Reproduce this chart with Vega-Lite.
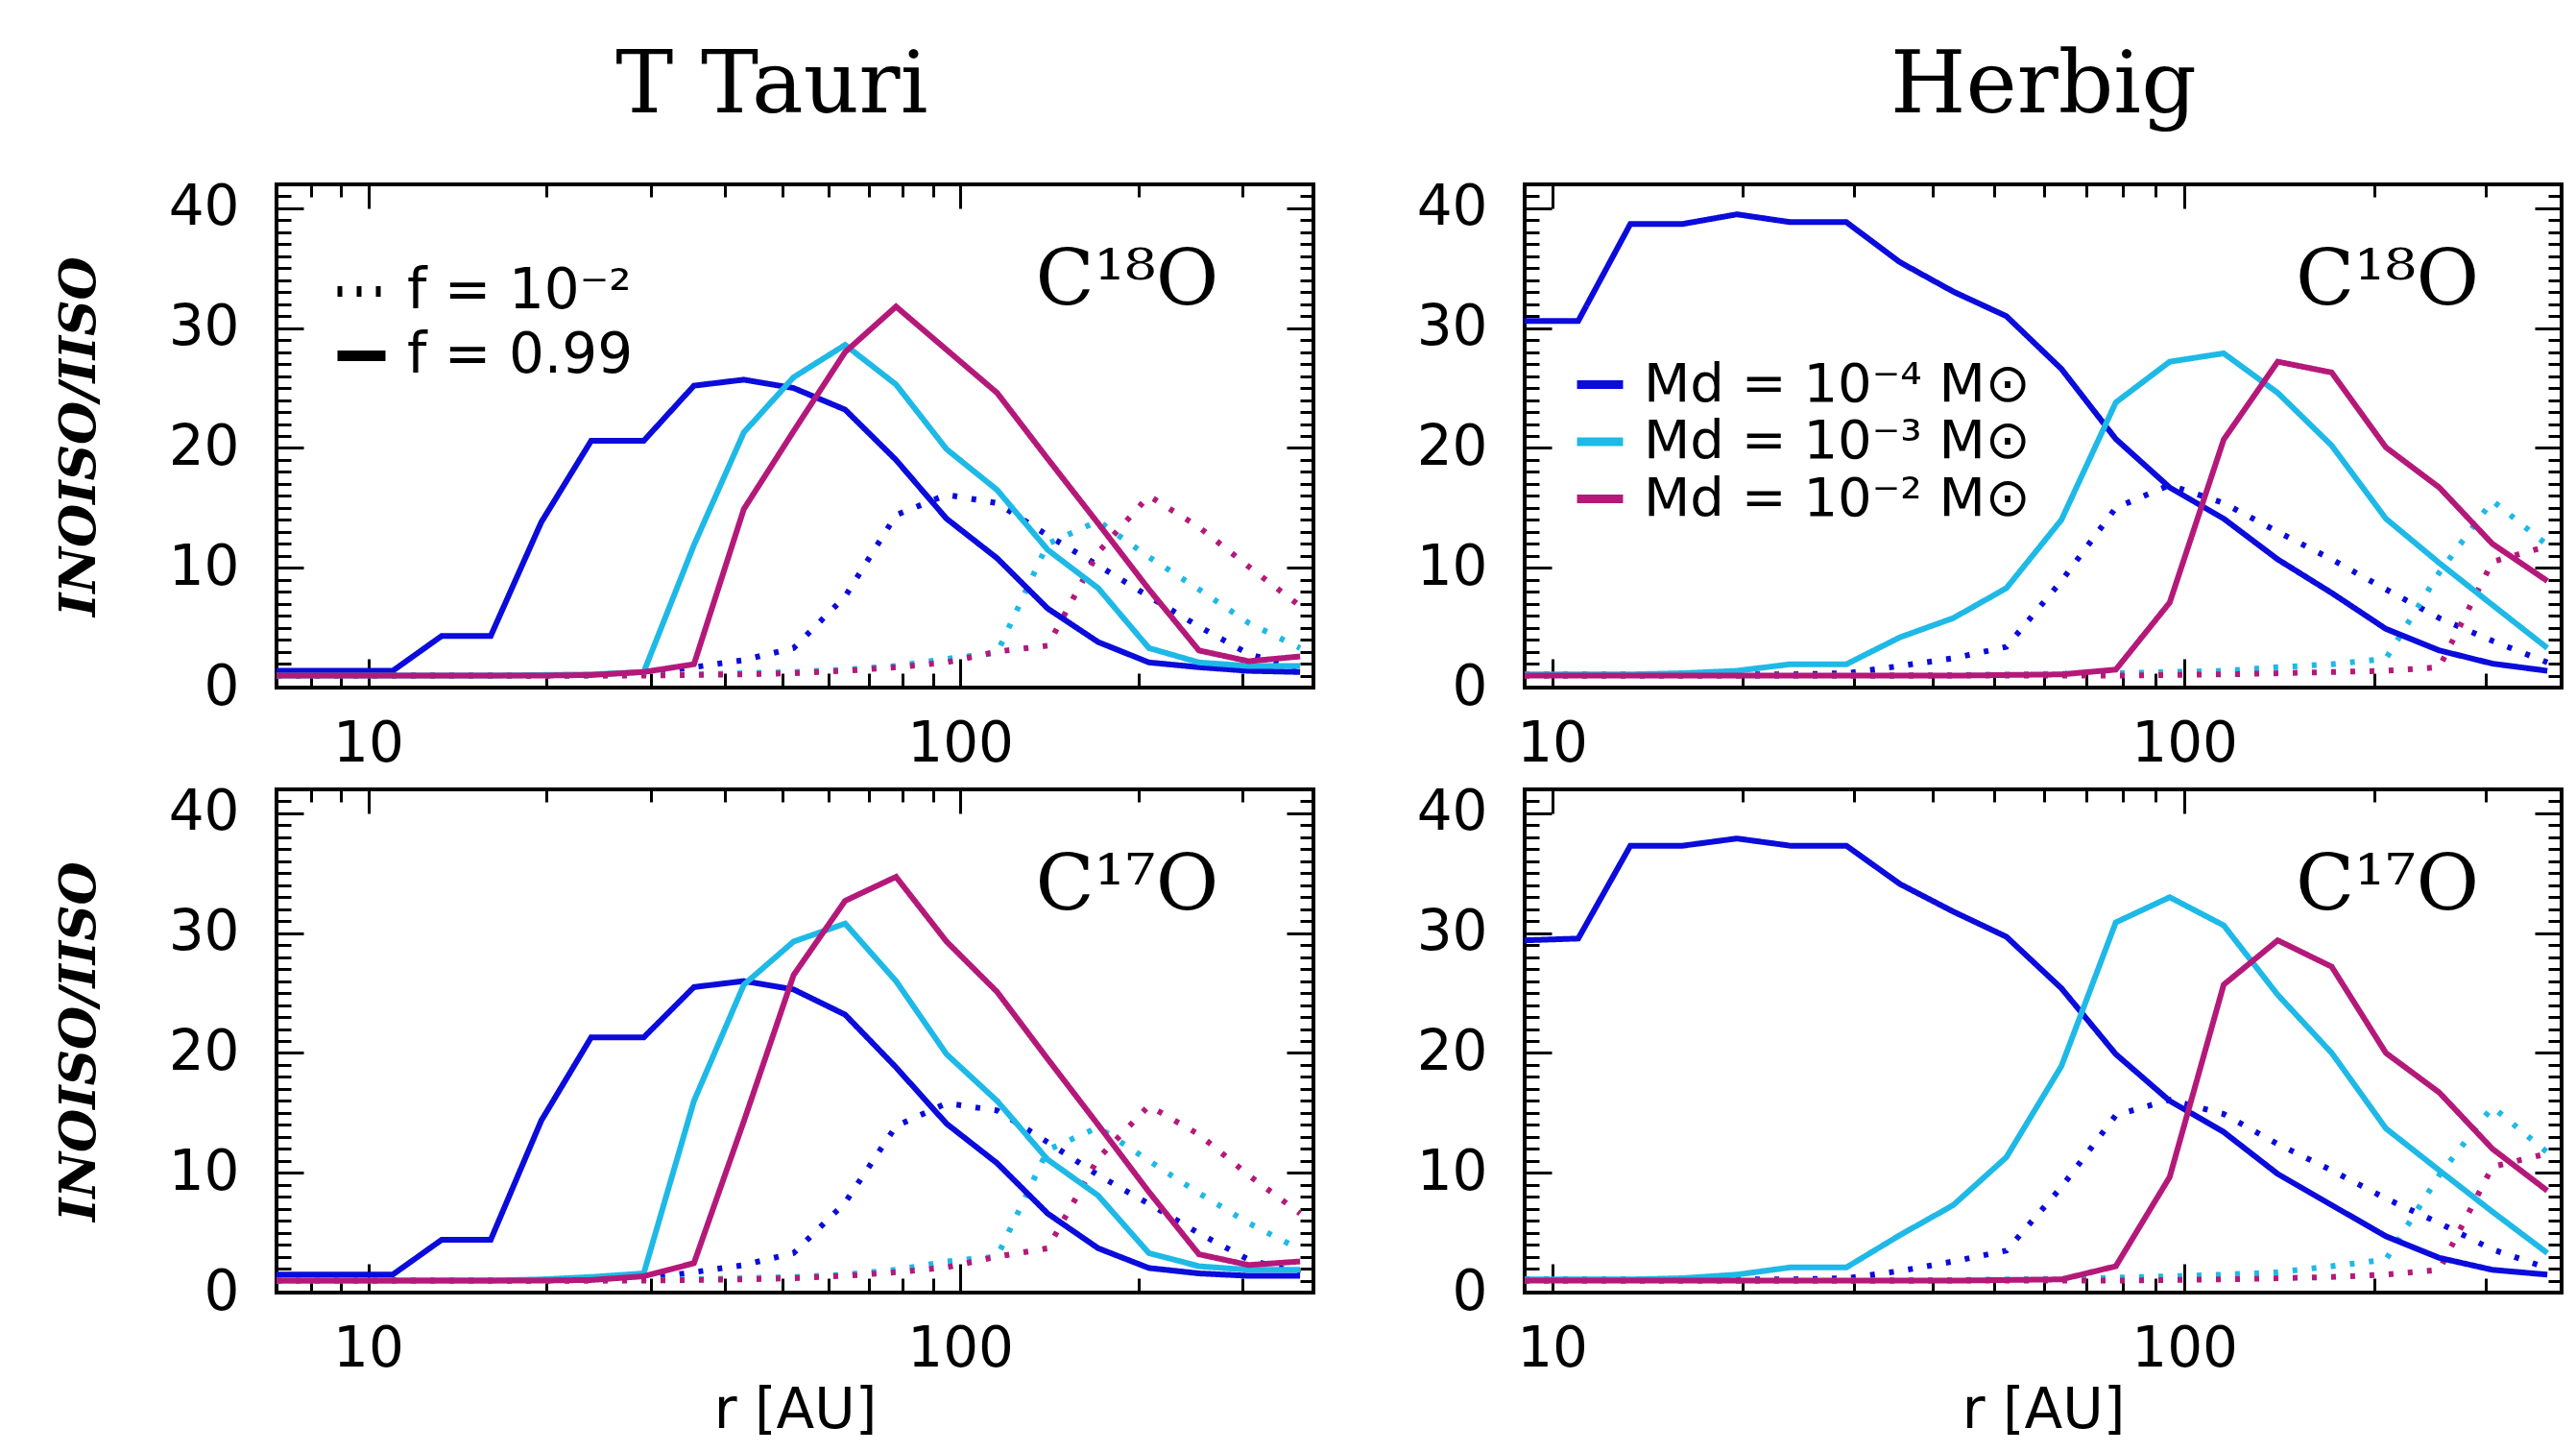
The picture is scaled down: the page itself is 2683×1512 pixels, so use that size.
{
"$schema":"https://vega.github.io/schema/vega-lite/v6.json",
"background":"white",
"padding":{"left":54,"top":44,"right":0,"bottom":0},
"datasets":{
"tt18":[
{"Md":"1e-4","f":"0.01","r":7,"I":1.0},{"Md":"1e-4","f":"0.01","r":9,"I":1.0},{"Md":"1e-4","f":"0.01","r":11,"I":1.0},{"Md":"1e-4","f":"0.01","r":13.3,"I":1.0},{"Md":"1e-4","f":"0.01","r":16.1,"I":1.0},{"Md":"1e-4","f":"0.01","r":19.6,"I":1.0},{"Md":"1e-4","f":"0.01","r":23.8,"I":1.05},{"Md":"1e-4","f":"0.01","r":29.2,"I":1.15},{"Md":"1e-4","f":"0.01","r":35.5,"I":1.7},{"Md":"1e-4","f":"0.01","r":43.1,"I":2.3},{"Md":"1e-4","f":"0.01","r":52.3,"I":3.3},{"Md":"1e-4","f":"0.01","r":63.9,"I":7.6},{"Md":"1e-4","f":"0.01","r":77.9,"I":14.4},{"Md":"1e-4","f":"0.01","r":94.8,"I":16.1},{"Md":"1e-4","f":"0.01","r":115.4,"I":15.4},{"Md":"1e-4","f":"0.01","r":140.5,"I":12.7},{"Md":"1e-4","f":"0.01","r":171,"I":10.2},{"Md":"1e-4","f":"0.01","r":208.3,"I":7.6},{"Md":"1e-4","f":"0.01","r":253,"I":5.1},{"Md":"1e-4","f":"0.01","r":307,"I":2.8},{"Md":"1e-4","f":"0.01","r":375,"I":1.6},
{"Md":"1e-3","f":"0.01","r":7,"I":1.0},{"Md":"1e-3","f":"0.01","r":9,"I":1.0},{"Md":"1e-3","f":"0.01","r":11,"I":1.0},{"Md":"1e-3","f":"0.01","r":13.3,"I":1.0},{"Md":"1e-3","f":"0.01","r":16.1,"I":1.0},{"Md":"1e-3","f":"0.01","r":19.6,"I":1.0},{"Md":"1e-3","f":"0.01","r":23.8,"I":1.0},{"Md":"1e-3","f":"0.01","r":29.2,"I":1.05},{"Md":"1e-3","f":"0.01","r":35.5,"I":1.1},{"Md":"1e-3","f":"0.01","r":43.1,"I":1.2},{"Md":"1e-3","f":"0.01","r":52.3,"I":1.3},{"Md":"1e-3","f":"0.01","r":63.9,"I":1.5},{"Md":"1e-3","f":"0.01","r":77.9,"I":1.8},{"Md":"1e-3","f":"0.01","r":94.8,"I":2.4},{"Md":"1e-3","f":"0.01","r":115.4,"I":2.9},{"Md":"1e-3","f":"0.01","r":140.5,"I":12.0},{"Md":"1e-3","f":"0.01","r":171,"I":13.9},{"Md":"1e-3","f":"0.01","r":208.3,"I":10.9},{"Md":"1e-3","f":"0.01","r":253,"I":8.2},{"Md":"1e-3","f":"0.01","r":307,"I":5.4},{"Md":"1e-3","f":"0.01","r":375,"I":3.3},
{"Md":"1e-2","f":"0.01","r":7,"I":1.0},{"Md":"1e-2","f":"0.01","r":9,"I":1.0},{"Md":"1e-2","f":"0.01","r":11,"I":1.0},{"Md":"1e-2","f":"0.01","r":13.3,"I":1.0},{"Md":"1e-2","f":"0.01","r":16.1,"I":1.0},{"Md":"1e-2","f":"0.01","r":19.6,"I":1.0},{"Md":"1e-2","f":"0.01","r":23.8,"I":1.0},{"Md":"1e-2","f":"0.01","r":29.2,"I":1.0},{"Md":"1e-2","f":"0.01","r":35.5,"I":1.05},{"Md":"1e-2","f":"0.01","r":43.1,"I":1.1},{"Md":"1e-2","f":"0.01","r":52.3,"I":1.2},{"Md":"1e-2","f":"0.01","r":63.9,"I":1.4},{"Md":"1e-2","f":"0.01","r":77.9,"I":1.7},{"Md":"1e-2","f":"0.01","r":94.8,"I":2.1},{"Md":"1e-2","f":"0.01","r":115.4,"I":3.0},{"Md":"1e-2","f":"0.01","r":140.5,"I":3.5},{"Md":"1e-2","f":"0.01","r":171,"I":11.3},{"Md":"1e-2","f":"0.01","r":208.3,"I":16.0},{"Md":"1e-2","f":"0.01","r":253,"I":13.4},{"Md":"1e-2","f":"0.01","r":307,"I":10.1},{"Md":"1e-2","f":"0.01","r":375,"I":6.8},
{"Md":"1e-4","f":"0.99","r":7,"I":1.4},{"Md":"1e-4","f":"0.99","r":9,"I":1.4},{"Md":"1e-4","f":"0.99","r":11,"I":1.4},{"Md":"1e-4","f":"0.99","r":13.3,"I":4.3},{"Md":"1e-4","f":"0.99","r":16.1,"I":4.3},{"Md":"1e-4","f":"0.99","r":19.6,"I":13.8},{"Md":"1e-4","f":"0.99","r":23.8,"I":20.6},{"Md":"1e-4","f":"0.99","r":29.2,"I":20.6},{"Md":"1e-4","f":"0.99","r":35.5,"I":25.2},{"Md":"1e-4","f":"0.99","r":43.1,"I":25.7},{"Md":"1e-4","f":"0.99","r":52.3,"I":25.0},{"Md":"1e-4","f":"0.99","r":63.9,"I":23.2},{"Md":"1e-4","f":"0.99","r":77.9,"I":19.0},{"Md":"1e-4","f":"0.99","r":94.8,"I":14.1},{"Md":"1e-4","f":"0.99","r":115.4,"I":10.8},{"Md":"1e-4","f":"0.99","r":140.5,"I":6.6},{"Md":"1e-4","f":"0.99","r":171,"I":3.8},{"Md":"1e-4","f":"0.99","r":208.3,"I":2.1},{"Md":"1e-4","f":"0.99","r":253,"I":1.7},{"Md":"1e-4","f":"0.99","r":307,"I":1.4},{"Md":"1e-4","f":"0.99","r":375,"I":1.3},
{"Md":"1e-3","f":"0.99","r":7,"I":1.0},{"Md":"1e-3","f":"0.99","r":9,"I":1.0},{"Md":"1e-3","f":"0.99","r":11,"I":1.0},{"Md":"1e-3","f":"0.99","r":13.3,"I":1.0},{"Md":"1e-3","f":"0.99","r":16.1,"I":1.0},{"Md":"1e-3","f":"0.99","r":19.6,"I":1.05},{"Md":"1e-3","f":"0.99","r":23.8,"I":1.1},{"Md":"1e-3","f":"0.99","r":29.2,"I":1.3},{"Md":"1e-3","f":"0.99","r":35.5,"I":11.9},{"Md":"1e-3","f":"0.99","r":43.1,"I":21.3},{"Md":"1e-3","f":"0.99","r":52.3,"I":25.9},{"Md":"1e-3","f":"0.99","r":63.9,"I":28.6},{"Md":"1e-3","f":"0.99","r":77.9,"I":25.3},{"Md":"1e-3","f":"0.99","r":94.8,"I":19.9},{"Md":"1e-3","f":"0.99","r":115.4,"I":16.5},{"Md":"1e-3","f":"0.99","r":140.5,"I":11.5},{"Md":"1e-3","f":"0.99","r":171,"I":8.3},{"Md":"1e-3","f":"0.99","r":208.3,"I":3.3},{"Md":"1e-3","f":"0.99","r":253,"I":2.1},{"Md":"1e-3","f":"0.99","r":307,"I":1.8},{"Md":"1e-3","f":"0.99","r":375,"I":1.8},
{"Md":"1e-2","f":"0.99","r":7,"I":1.0},{"Md":"1e-2","f":"0.99","r":9,"I":1.0},{"Md":"1e-2","f":"0.99","r":11,"I":1.0},{"Md":"1e-2","f":"0.99","r":13.3,"I":1.0},{"Md":"1e-2","f":"0.99","r":16.1,"I":1.0},{"Md":"1e-2","f":"0.99","r":19.6,"I":1.0},{"Md":"1e-2","f":"0.99","r":23.8,"I":1.05},{"Md":"1e-2","f":"0.99","r":29.2,"I":1.3},{"Md":"1e-2","f":"0.99","r":35.5,"I":1.95},{"Md":"1e-2","f":"0.99","r":43.1,"I":14.9},{"Md":"1e-2","f":"0.99","r":52.3,"I":21.4},{"Md":"1e-2","f":"0.99","r":63.9,"I":28.0},{"Md":"1e-2","f":"0.99","r":77.9,"I":31.8},{"Md":"1e-2","f":"0.99","r":94.8,"I":28.2},{"Md":"1e-2","f":"0.99","r":115.4,"I":24.6},{"Md":"1e-2","f":"0.99","r":140.5,"I":19.1},{"Md":"1e-2","f":"0.99","r":171,"I":13.7},{"Md":"1e-2","f":"0.99","r":208.3,"I":8.2},{"Md":"1e-2","f":"0.99","r":253,"I":3.1},{"Md":"1e-2","f":"0.99","r":307,"I":2.2},{"Md":"1e-2","f":"0.99","r":375,"I":2.6}
],
"tt17":[
{"Md":"1e-4","f":"0.01","r":7,"I":1.0},{"Md":"1e-4","f":"0.01","r":9,"I":1.0},{"Md":"1e-4","f":"0.01","r":11,"I":1.0},{"Md":"1e-4","f":"0.01","r":13.3,"I":1.0},{"Md":"1e-4","f":"0.01","r":16.1,"I":1.0},{"Md":"1e-4","f":"0.01","r":19.6,"I":1.0},{"Md":"1e-4","f":"0.01","r":23.8,"I":1.05},{"Md":"1e-4","f":"0.01","r":29.2,"I":1.15},{"Md":"1e-4","f":"0.01","r":35.5,"I":1.7},{"Md":"1e-4","f":"0.01","r":43.1,"I":2.3},{"Md":"1e-4","f":"0.01","r":52.3,"I":3.3},{"Md":"1e-4","f":"0.01","r":63.9,"I":7.5},{"Md":"1e-4","f":"0.01","r":77.9,"I":13.9},{"Md":"1e-4","f":"0.01","r":94.8,"I":15.8},{"Md":"1e-4","f":"0.01","r":115.4,"I":15.2},{"Md":"1e-4","f":"0.01","r":140.5,"I":12.55},{"Md":"1e-4","f":"0.01","r":171,"I":9.8},{"Md":"1e-4","f":"0.01","r":208.3,"I":7.4},{"Md":"1e-4","f":"0.01","r":253,"I":4.95},{"Md":"1e-4","f":"0.01","r":307,"I":2.75},{"Md":"1e-4","f":"0.01","r":375,"I":1.6},
{"Md":"1e-3","f":"0.01","r":7,"I":1.0},{"Md":"1e-3","f":"0.01","r":9,"I":1.0},{"Md":"1e-3","f":"0.01","r":11,"I":1.0},{"Md":"1e-3","f":"0.01","r":13.3,"I":1.0},{"Md":"1e-3","f":"0.01","r":16.1,"I":1.0},{"Md":"1e-3","f":"0.01","r":19.6,"I":1.0},{"Md":"1e-3","f":"0.01","r":23.8,"I":1.0},{"Md":"1e-3","f":"0.01","r":29.2,"I":1.05},{"Md":"1e-3","f":"0.01","r":35.5,"I":1.1},{"Md":"1e-3","f":"0.01","r":43.1,"I":1.2},{"Md":"1e-3","f":"0.01","r":52.3,"I":1.3},{"Md":"1e-3","f":"0.01","r":63.9,"I":1.5},{"Md":"1e-3","f":"0.01","r":77.9,"I":1.9},{"Md":"1e-3","f":"0.01","r":94.8,"I":2.6},{"Md":"1e-3","f":"0.01","r":115.4,"I":3.0},{"Md":"1e-3","f":"0.01","r":140.5,"I":11.9},{"Md":"1e-3","f":"0.01","r":171,"I":13.8},{"Md":"1e-3","f":"0.01","r":208.3,"I":11.0},{"Md":"1e-3","f":"0.01","r":253,"I":8.3},{"Md":"1e-3","f":"0.01","r":307,"I":5.8},{"Md":"1e-3","f":"0.01","r":375,"I":3.6},
{"Md":"1e-2","f":"0.01","r":7,"I":1.0},{"Md":"1e-2","f":"0.01","r":9,"I":1.0},{"Md":"1e-2","f":"0.01","r":11,"I":1.0},{"Md":"1e-2","f":"0.01","r":13.3,"I":1.0},{"Md":"1e-2","f":"0.01","r":16.1,"I":1.0},{"Md":"1e-2","f":"0.01","r":19.6,"I":1.0},{"Md":"1e-2","f":"0.01","r":23.8,"I":1.0},{"Md":"1e-2","f":"0.01","r":29.2,"I":1.0},{"Md":"1e-2","f":"0.01","r":35.5,"I":1.05},{"Md":"1e-2","f":"0.01","r":43.1,"I":1.1},{"Md":"1e-2","f":"0.01","r":52.3,"I":1.2},{"Md":"1e-2","f":"0.01","r":63.9,"I":1.4},{"Md":"1e-2","f":"0.01","r":77.9,"I":1.7},{"Md":"1e-2","f":"0.01","r":94.8,"I":2.1},{"Md":"1e-2","f":"0.01","r":115.4,"I":3.0},{"Md":"1e-2","f":"0.01","r":140.5,"I":3.7},{"Md":"1e-2","f":"0.01","r":171,"I":11.2},{"Md":"1e-2","f":"0.01","r":208.3,"I":15.6},{"Md":"1e-2","f":"0.01","r":253,"I":13.2},{"Md":"1e-2","f":"0.01","r":307,"I":9.8},{"Md":"1e-2","f":"0.01","r":375,"I":6.6},
{"Md":"1e-4","f":"0.99","r":7,"I":1.5},{"Md":"1e-4","f":"0.99","r":9,"I":1.5},{"Md":"1e-4","f":"0.99","r":11,"I":1.5},{"Md":"1e-4","f":"0.99","r":13.3,"I":4.4},{"Md":"1e-4","f":"0.99","r":16.1,"I":4.4},{"Md":"1e-4","f":"0.99","r":19.6,"I":14.35},{"Md":"1e-4","f":"0.99","r":23.8,"I":21.3},{"Md":"1e-4","f":"0.99","r":29.2,"I":21.3},{"Md":"1e-4","f":"0.99","r":35.5,"I":25.5},{"Md":"1e-4","f":"0.99","r":43.1,"I":26.0},{"Md":"1e-4","f":"0.99","r":52.3,"I":25.3},{"Md":"1e-4","f":"0.99","r":63.9,"I":23.2},{"Md":"1e-4","f":"0.99","r":77.9,"I":18.8},{"Md":"1e-4","f":"0.99","r":94.8,"I":14.1},{"Md":"1e-4","f":"0.99","r":115.4,"I":10.8},{"Md":"1e-4","f":"0.99","r":140.5,"I":6.6},{"Md":"1e-4","f":"0.99","r":171,"I":3.7},{"Md":"1e-4","f":"0.99","r":208.3,"I":2.05},{"Md":"1e-4","f":"0.99","r":253,"I":1.6},{"Md":"1e-4","f":"0.99","r":307,"I":1.4},{"Md":"1e-4","f":"0.99","r":375,"I":1.4},
{"Md":"1e-3","f":"0.99","r":7,"I":1.0},{"Md":"1e-3","f":"0.99","r":9,"I":1.0},{"Md":"1e-3","f":"0.99","r":11,"I":1.0},{"Md":"1e-3","f":"0.99","r":13.3,"I":1.0},{"Md":"1e-3","f":"0.99","r":16.1,"I":1.0},{"Md":"1e-3","f":"0.99","r":19.6,"I":1.1},{"Md":"1e-3","f":"0.99","r":23.8,"I":1.3},{"Md":"1e-3","f":"0.99","r":29.2,"I":1.6},{"Md":"1e-3","f":"0.99","r":35.5,"I":16.0},{"Md":"1e-3","f":"0.99","r":43.1,"I":25.7},{"Md":"1e-3","f":"0.99","r":52.3,"I":29.3},{"Md":"1e-3","f":"0.99","r":63.9,"I":30.8},{"Md":"1e-3","f":"0.99","r":77.9,"I":26.0},{"Md":"1e-3","f":"0.99","r":94.8,"I":19.9},{"Md":"1e-3","f":"0.99","r":115.4,"I":16.0},{"Md":"1e-3","f":"0.99","r":140.5,"I":11.1},{"Md":"1e-3","f":"0.99","r":171,"I":8.1},{"Md":"1e-3","f":"0.99","r":208.3,"I":3.3},{"Md":"1e-3","f":"0.99","r":253,"I":2.2},{"Md":"1e-3","f":"0.99","r":307,"I":1.9},{"Md":"1e-3","f":"0.99","r":375,"I":1.9},
{"Md":"1e-2","f":"0.99","r":7,"I":1.0},{"Md":"1e-2","f":"0.99","r":9,"I":1.0},{"Md":"1e-2","f":"0.99","r":11,"I":1.0},{"Md":"1e-2","f":"0.99","r":13.3,"I":1.0},{"Md":"1e-2","f":"0.99","r":16.1,"I":1.0},{"Md":"1e-2","f":"0.99","r":19.6,"I":1.0},{"Md":"1e-2","f":"0.99","r":23.8,"I":1.05},{"Md":"1e-2","f":"0.99","r":29.2,"I":1.36},{"Md":"1e-2","f":"0.99","r":35.5,"I":2.46},{"Md":"1e-2","f":"0.99","r":43.1,"I":14.3},{"Md":"1e-2","f":"0.99","r":52.3,"I":26.5},{"Md":"1e-2","f":"0.99","r":63.9,"I":32.7},{"Md":"1e-2","f":"0.99","r":77.9,"I":34.7},{"Md":"1e-2","f":"0.99","r":94.8,"I":29.3},{"Md":"1e-2","f":"0.99","r":115.4,"I":25.1},{"Md":"1e-2","f":"0.99","r":140.5,"I":19.5},{"Md":"1e-2","f":"0.99","r":171,"I":14.0},{"Md":"1e-2","f":"0.99","r":208.3,"I":8.4},{"Md":"1e-2","f":"0.99","r":253,"I":3.2},{"Md":"1e-2","f":"0.99","r":307,"I":2.3},{"Md":"1e-2","f":"0.99","r":375,"I":2.6}
],
"hb18":[
{"Md":"1e-4","f":"0.01","r":9.05,"I":1.1},{"Md":"1e-4","f":"0.01","r":11,"I":1.1},{"Md":"1e-4","f":"0.01","r":13.3,"I":1.1},{"Md":"1e-4","f":"0.01","r":16.1,"I":1.1},{"Md":"1e-4","f":"0.01","r":19.6,"I":1.1},{"Md":"1e-4","f":"0.01","r":23.8,"I":1.1},{"Md":"1e-4","f":"0.01","r":29.2,"I":1.2},{"Md":"1e-4","f":"0.01","r":35.5,"I":1.8},{"Md":"1e-4","f":"0.01","r":43.1,"I":2.45},{"Md":"1e-4","f":"0.01","r":52.3,"I":3.4},{"Md":"1e-4","f":"0.01","r":63.9,"I":8.9},{"Md":"1e-4","f":"0.01","r":77.9,"I":15.0},{"Md":"1e-4","f":"0.01","r":94.8,"I":16.9},{"Md":"1e-4","f":"0.01","r":115.4,"I":15.4},{"Md":"1e-4","f":"0.01","r":140.5,"I":13.0},{"Md":"1e-4","f":"0.01","r":171,"I":10.7},{"Md":"1e-4","f":"0.01","r":208.3,"I":8.2},{"Md":"1e-4","f":"0.01","r":253,"I":5.8},{"Md":"1e-4","f":"0.01","r":307,"I":3.9},{"Md":"1e-4","f":"0.01","r":375,"I":2.1},
{"Md":"1e-3","f":"0.01","r":9.05,"I":1.0},{"Md":"1e-3","f":"0.01","r":11,"I":1.0},{"Md":"1e-3","f":"0.01","r":13.3,"I":1.0},{"Md":"1e-3","f":"0.01","r":16.1,"I":1.0},{"Md":"1e-3","f":"0.01","r":19.6,"I":1.0},{"Md":"1e-3","f":"0.01","r":23.8,"I":1.0},{"Md":"1e-3","f":"0.01","r":29.2,"I":1.0},{"Md":"1e-3","f":"0.01","r":35.5,"I":1.0},{"Md":"1e-3","f":"0.01","r":43.1,"I":1.05},{"Md":"1e-3","f":"0.01","r":52.3,"I":1.1},{"Md":"1e-3","f":"0.01","r":63.9,"I":1.15},{"Md":"1e-3","f":"0.01","r":77.9,"I":1.2},{"Md":"1e-3","f":"0.01","r":94.8,"I":1.3},{"Md":"1e-3","f":"0.01","r":115.4,"I":1.4},{"Md":"1e-3","f":"0.01","r":140.5,"I":1.7},{"Md":"1e-3","f":"0.01","r":171,"I":1.95},{"Md":"1e-3","f":"0.01","r":208.3,"I":2.4},{"Md":"1e-3","f":"0.01","r":253,"I":9.6},{"Md":"1e-3","f":"0.01","r":307,"I":15.6},{"Md":"1e-3","f":"0.01","r":375,"I":11.9},
{"Md":"1e-2","f":"0.01","r":9.05,"I":1.0},{"Md":"1e-2","f":"0.01","r":11,"I":1.0},{"Md":"1e-2","f":"0.01","r":13.3,"I":1.0},{"Md":"1e-2","f":"0.01","r":16.1,"I":1.0},{"Md":"1e-2","f":"0.01","r":19.6,"I":1.0},{"Md":"1e-2","f":"0.01","r":23.8,"I":1.0},{"Md":"1e-2","f":"0.01","r":29.2,"I":1.0},{"Md":"1e-2","f":"0.01","r":35.5,"I":1.0},{"Md":"1e-2","f":"0.01","r":43.1,"I":1.0},{"Md":"1e-2","f":"0.01","r":52.3,"I":1.0},{"Md":"1e-2","f":"0.01","r":63.9,"I":1.0},{"Md":"1e-2","f":"0.01","r":77.9,"I":1.0},{"Md":"1e-2","f":"0.01","r":94.8,"I":1.05},{"Md":"1e-2","f":"0.01","r":115.4,"I":1.1},{"Md":"1e-2","f":"0.01","r":140.5,"I":1.2},{"Md":"1e-2","f":"0.01","r":171,"I":1.3},{"Md":"1e-2","f":"0.01","r":208.3,"I":1.4},{"Md":"1e-2","f":"0.01","r":253,"I":1.7},{"Md":"1e-2","f":"0.01","r":307,"I":10.5},{"Md":"1e-2","f":"0.01","r":375,"I":11.8},
{"Md":"1e-4","f":"0.99","r":9.05,"I":30.6},{"Md":"1e-4","f":"0.99","r":11,"I":30.6},{"Md":"1e-4","f":"0.99","r":13.3,"I":38.7},{"Md":"1e-4","f":"0.99","r":16.1,"I":38.7},{"Md":"1e-4","f":"0.99","r":19.6,"I":39.5},{"Md":"1e-4","f":"0.99","r":23.8,"I":38.85},{"Md":"1e-4","f":"0.99","r":29.2,"I":38.85},{"Md":"1e-4","f":"0.99","r":35.5,"I":35.5},{"Md":"1e-4","f":"0.99","r":43.1,"I":33.05},{"Md":"1e-4","f":"0.99","r":52.3,"I":31.0},{"Md":"1e-4","f":"0.99","r":63.9,"I":26.6},{"Md":"1e-4","f":"0.99","r":77.9,"I":20.75},{"Md":"1e-4","f":"0.99","r":94.8,"I":16.7},{"Md":"1e-4","f":"0.99","r":115.4,"I":14.1},{"Md":"1e-4","f":"0.99","r":140.5,"I":10.7},{"Md":"1e-4","f":"0.99","r":171,"I":7.9},{"Md":"1e-4","f":"0.99","r":208.3,"I":4.9},{"Md":"1e-4","f":"0.99","r":253,"I":3.1},{"Md":"1e-4","f":"0.99","r":307,"I":2.0},{"Md":"1e-4","f":"0.99","r":375,"I":1.4},
{"Md":"1e-3","f":"0.99","r":9.05,"I":1.1},{"Md":"1e-3","f":"0.99","r":11,"I":1.1},{"Md":"1e-3","f":"0.99","r":13.3,"I":1.1},{"Md":"1e-3","f":"0.99","r":16.1,"I":1.2},{"Md":"1e-3","f":"0.99","r":19.6,"I":1.4},{"Md":"1e-3","f":"0.99","r":23.8,"I":1.95},{"Md":"1e-3","f":"0.99","r":29.2,"I":1.95},{"Md":"1e-3","f":"0.99","r":35.5,"I":4.2},{"Md":"1e-3","f":"0.99","r":43.1,"I":5.8},{"Md":"1e-3","f":"0.99","r":52.3,"I":8.3},{"Md":"1e-3","f":"0.99","r":63.9,"I":14.0},{"Md":"1e-3","f":"0.99","r":77.9,"I":23.8},{"Md":"1e-3","f":"0.99","r":94.8,"I":27.2},{"Md":"1e-3","f":"0.99","r":115.4,"I":27.9},{"Md":"1e-3","f":"0.99","r":140.5,"I":24.6},{"Md":"1e-3","f":"0.99","r":171,"I":20.2},{"Md":"1e-3","f":"0.99","r":208.3,"I":14.1},{"Md":"1e-3","f":"0.99","r":253,"I":10.4},{"Md":"1e-3","f":"0.99","r":307,"I":6.9},{"Md":"1e-3","f":"0.99","r":375,"I":3.3},
{"Md":"1e-2","f":"0.99","r":9.05,"I":1.0},{"Md":"1e-2","f":"0.99","r":11,"I":1.0},{"Md":"1e-2","f":"0.99","r":13.3,"I":1.0},{"Md":"1e-2","f":"0.99","r":16.1,"I":1.0},{"Md":"1e-2","f":"0.99","r":19.6,"I":1.0},{"Md":"1e-2","f":"0.99","r":23.8,"I":1.0},{"Md":"1e-2","f":"0.99","r":29.2,"I":1.0},{"Md":"1e-2","f":"0.99","r":35.5,"I":1.0},{"Md":"1e-2","f":"0.99","r":43.1,"I":1.0},{"Md":"1e-2","f":"0.99","r":52.3,"I":1.05},{"Md":"1e-2","f":"0.99","r":63.9,"I":1.1},{"Md":"1e-2","f":"0.99","r":77.9,"I":1.5},{"Md":"1e-2","f":"0.99","r":94.8,"I":7.1},{"Md":"1e-2","f":"0.99","r":115.4,"I":20.7},{"Md":"1e-2","f":"0.99","r":140.5,"I":27.2},{"Md":"1e-2","f":"0.99","r":171,"I":26.3},{"Md":"1e-2","f":"0.99","r":208.3,"I":20.05},{"Md":"1e-2","f":"0.99","r":253,"I":16.7},{"Md":"1e-2","f":"0.99","r":307,"I":12.0},{"Md":"1e-2","f":"0.99","r":375,"I":8.9}
],
"hb17":[
{"Md":"1e-4","f":"0.01","r":9.05,"I":1.1},{"Md":"1e-4","f":"0.01","r":11,"I":1.1},{"Md":"1e-4","f":"0.01","r":13.3,"I":1.1},{"Md":"1e-4","f":"0.01","r":16.1,"I":1.1},{"Md":"1e-4","f":"0.01","r":19.6,"I":1.1},{"Md":"1e-4","f":"0.01","r":23.8,"I":1.1},{"Md":"1e-4","f":"0.01","r":29.2,"I":1.2},{"Md":"1e-4","f":"0.01","r":35.5,"I":1.8},{"Md":"1e-4","f":"0.01","r":43.1,"I":2.6},{"Md":"1e-4","f":"0.01","r":52.3,"I":3.5},{"Md":"1e-4","f":"0.01","r":63.9,"I":8.8},{"Md":"1e-4","f":"0.01","r":77.9,"I":14.8},{"Md":"1e-4","f":"0.01","r":94.8,"I":16.1},{"Md":"1e-4","f":"0.01","r":115.4,"I":14.9},{"Md":"1e-4","f":"0.01","r":140.5,"I":12.4},{"Md":"1e-4","f":"0.01","r":171,"I":10.2},{"Md":"1e-4","f":"0.01","r":208.3,"I":7.85},{"Md":"1e-4","f":"0.01","r":253,"I":5.8},{"Md":"1e-4","f":"0.01","r":307,"I":3.6},{"Md":"1e-4","f":"0.01","r":375,"I":2.05},
{"Md":"1e-3","f":"0.01","r":9.05,"I":1.0},{"Md":"1e-3","f":"0.01","r":11,"I":1.0},{"Md":"1e-3","f":"0.01","r":13.3,"I":1.0},{"Md":"1e-3","f":"0.01","r":16.1,"I":1.0},{"Md":"1e-3","f":"0.01","r":19.6,"I":1.0},{"Md":"1e-3","f":"0.01","r":23.8,"I":1.0},{"Md":"1e-3","f":"0.01","r":29.2,"I":1.0},{"Md":"1e-3","f":"0.01","r":35.5,"I":1.0},{"Md":"1e-3","f":"0.01","r":43.1,"I":1.05},{"Md":"1e-3","f":"0.01","r":52.3,"I":1.1},{"Md":"1e-3","f":"0.01","r":63.9,"I":1.15},{"Md":"1e-3","f":"0.01","r":77.9,"I":1.25},{"Md":"1e-3","f":"0.01","r":94.8,"I":1.36},{"Md":"1e-3","f":"0.01","r":115.4,"I":1.5},{"Md":"1e-3","f":"0.01","r":140.5,"I":1.7},{"Md":"1e-3","f":"0.01","r":171,"I":2.2},{"Md":"1e-3","f":"0.01","r":208.3,"I":2.75},{"Md":"1e-3","f":"0.01","r":253,"I":9.8},{"Md":"1e-3","f":"0.01","r":307,"I":15.5},{"Md":"1e-3","f":"0.01","r":375,"I":11.7},
{"Md":"1e-2","f":"0.01","r":9.05,"I":1.0},{"Md":"1e-2","f":"0.01","r":11,"I":1.0},{"Md":"1e-2","f":"0.01","r":13.3,"I":1.0},{"Md":"1e-2","f":"0.01","r":16.1,"I":1.0},{"Md":"1e-2","f":"0.01","r":19.6,"I":1.0},{"Md":"1e-2","f":"0.01","r":23.8,"I":1.0},{"Md":"1e-2","f":"0.01","r":29.2,"I":1.0},{"Md":"1e-2","f":"0.01","r":35.5,"I":1.0},{"Md":"1e-2","f":"0.01","r":43.1,"I":1.0},{"Md":"1e-2","f":"0.01","r":52.3,"I":1.0},{"Md":"1e-2","f":"0.01","r":63.9,"I":1.0},{"Md":"1e-2","f":"0.01","r":77.9,"I":1.0},{"Md":"1e-2","f":"0.01","r":94.8,"I":1.05},{"Md":"1e-2","f":"0.01","r":115.4,"I":1.1},{"Md":"1e-2","f":"0.01","r":140.5,"I":1.2},{"Md":"1e-2","f":"0.01","r":171,"I":1.3},{"Md":"1e-2","f":"0.01","r":208.3,"I":1.5},{"Md":"1e-2","f":"0.01","r":253,"I":1.9},{"Md":"1e-2","f":"0.01","r":307,"I":10.5},{"Md":"1e-2","f":"0.01","r":375,"I":11.6},
{"Md":"1e-4","f":"0.99","r":9.05,"I":29.4},{"Md":"1e-4","f":"0.99","r":11,"I":29.55},{"Md":"1e-4","f":"0.99","r":13.3,"I":37.3},{"Md":"1e-4","f":"0.99","r":16.1,"I":37.3},{"Md":"1e-4","f":"0.99","r":19.6,"I":37.9},{"Md":"1e-4","f":"0.99","r":23.8,"I":37.3},{"Md":"1e-4","f":"0.99","r":29.2,"I":37.3},{"Md":"1e-4","f":"0.99","r":35.5,"I":34.1},{"Md":"1e-4","f":"0.99","r":43.1,"I":31.8},{"Md":"1e-4","f":"0.99","r":52.3,"I":29.7},{"Md":"1e-4","f":"0.99","r":63.9,"I":25.4},{"Md":"1e-4","f":"0.99","r":77.9,"I":19.9},{"Md":"1e-4","f":"0.99","r":94.8,"I":16.0},{"Md":"1e-4","f":"0.99","r":115.4,"I":13.4},{"Md":"1e-4","f":"0.99","r":140.5,"I":9.9},{"Md":"1e-4","f":"0.99","r":171,"I":7.3},{"Md":"1e-4","f":"0.99","r":208.3,"I":4.7},{"Md":"1e-4","f":"0.99","r":253,"I":2.9},{"Md":"1e-4","f":"0.99","r":307,"I":1.9},{"Md":"1e-4","f":"0.99","r":375,"I":1.5},
{"Md":"1e-3","f":"0.99","r":9.05,"I":1.1},{"Md":"1e-3","f":"0.99","r":11,"I":1.1},{"Md":"1e-3","f":"0.99","r":13.3,"I":1.1},{"Md":"1e-3","f":"0.99","r":16.1,"I":1.2},{"Md":"1e-3","f":"0.99","r":19.6,"I":1.5},{"Md":"1e-3","f":"0.99","r":23.8,"I":2.1},{"Md":"1e-3","f":"0.99","r":29.2,"I":2.1},{"Md":"1e-3","f":"0.99","r":35.5,"I":4.8},{"Md":"1e-3","f":"0.99","r":43.1,"I":7.3},{"Md":"1e-3","f":"0.99","r":52.3,"I":11.3},{"Md":"1e-3","f":"0.99","r":63.9,"I":18.9},{"Md":"1e-3","f":"0.99","r":77.9,"I":30.9},{"Md":"1e-3","f":"0.99","r":94.8,"I":33.0},{"Md":"1e-3","f":"0.99","r":115.4,"I":30.65},{"Md":"1e-3","f":"0.99","r":140.5,"I":24.85},{"Md":"1e-3","f":"0.99","r":171,"I":20.0},{"Md":"1e-3","f":"0.99","r":208.3,"I":13.7},{"Md":"1e-3","f":"0.99","r":253,"I":10.2},{"Md":"1e-3","f":"0.99","r":307,"I":6.75},{"Md":"1e-3","f":"0.99","r":375,"I":3.3},
{"Md":"1e-2","f":"0.99","r":9.05,"I":1.0},{"Md":"1e-2","f":"0.99","r":11,"I":1.0},{"Md":"1e-2","f":"0.99","r":13.3,"I":1.0},{"Md":"1e-2","f":"0.99","r":16.1,"I":1.0},{"Md":"1e-2","f":"0.99","r":19.6,"I":1.0},{"Md":"1e-2","f":"0.99","r":23.8,"I":1.0},{"Md":"1e-2","f":"0.99","r":29.2,"I":1.0},{"Md":"1e-2","f":"0.99","r":35.5,"I":1.0},{"Md":"1e-2","f":"0.99","r":43.1,"I":1.0},{"Md":"1e-2","f":"0.99","r":52.3,"I":1.05},{"Md":"1e-2","f":"0.99","r":63.9,"I":1.1},{"Md":"1e-2","f":"0.99","r":77.9,"I":2.2},{"Md":"1e-2","f":"0.99","r":94.8,"I":9.65},{"Md":"1e-2","f":"0.99","r":115.4,"I":25.7},{"Md":"1e-2","f":"0.99","r":140.5,"I":29.4},{"Md":"1e-2","f":"0.99","r":171,"I":27.2},{"Md":"1e-2","f":"0.99","r":208.3,"I":20.0},{"Md":"1e-2","f":"0.99","r":253,"I":16.7},{"Md":"1e-2","f":"0.99","r":307,"I":12.0},{"Md":"1e-2","f":"0.99","r":375,"I":8.5}
]
},
"hconcat":[
{"title":{"text":"T Tauri","anchor":"middle","frame":"bounds","dx":91},
 "vconcat":[
 {"width":1080,"height":524,"data":{"name":"tt18"},
  "layer":[
   {"mark":{"type":"point","opacity":0},"encoding":{
     "x":{"field":"r","type":"quantitative","scale":{"type":"log","domain":[7,395],"nice":false},"axis":{"orient":"bottom","values":[8,9,20,30,40,50,60,70,80,90,200,300],"labels":false,"tickSize":-15,"title":null}},
     "y":{"field":"I","type":"quantitative","scale":{"domain":[0,42],"nice":false,"zero":false},"axis":{"orient":"left","values":[1,2,3,4,5,6,7,8,9,11,12,13,14,15,16,17,18,19,21,22,23,24,25,26,27,28,29,31,32,33,34,35,36,37,38,39,41],"labels":false,"tickSize":-15,"title":null}}}},
   {"mark":{"type":"point","opacity":0},"encoding":{
     "x":{"field":"r","type":"quantitative","scale":{"type":"log","domain":[7,395],"nice":false},"axis":{"orient":"top","values":[8,9,20,30,40,50,60,70,80,90,200,300],"labels":false,"tickSize":-13,"title":null}},
     "y":{"field":"I","type":"quantitative","scale":{"domain":[0,42],"nice":false,"zero":false},"axis":{"orient":"right","values":[1,2,3,4,5,6,7,8,9,11,12,13,14,15,16,17,18,19,21,22,23,24,25,26,27,28,29,31,32,33,34,35,36,37,38,39,41],"labels":false,"tickSize":-14,"title":null}}}},
   {"mark":{"type":"point","opacity":0},"encoding":{
     "x":{"field":"r","type":"quantitative","scale":{"type":"log","domain":[7,395],"nice":false},"axis":{"orient":"top","values":[10,100],"labels":false,"tickSize":-25,"title":null}},
     "y":{"field":"I","type":"quantitative","scale":{"domain":[0,42],"nice":false,"zero":false},"axis":{"orient":"right","values":[0,10,20,30,40],"labels":false,"tickSize":-28,"title":null}}}},
   {"mark":{"type":"line","strokeWidth":6},"encoding":{
     "x":{"field":"r","type":"quantitative","scale":{"type":"log","domain":[7,395],"nice":false},"axis":{"orient":"bottom","values":[10,100],"format":"d","tickSize":-30,"labelPadding":60,"title":null}},
     "y":{"field":"I","type":"quantitative","scale":{"domain":[0,42],"nice":false,"zero":false},"axis":{"orient":"left","values":[0,10,20,30,40],"tickSize":-28,"labelPadding":67,"title":"INOISO/IISO","titleFont":"DejaVu Serif","titleFontStyle":"italic","titleFontWeight":"bold","titleFontSize":52,"titlePadding":66}},
     "color":{"field":"Md","type":"nominal","scale":{"domain":["1e-4","1e-3","1e-2"],"range":["#0b0bdc","#1eb9e6","#b4197a"]},"legend":null},
     "strokeDash":{"field":"f","type":"nominal","scale":{"domain":["0.01","0.99"],"range":[[5,15],[1,0]]},"legend":{"orient":"none","legendX":58,"legendY":81,"title":null,"symbolType":"stroke","symbolSize":2500,"symbolStrokeWidth":11,"symbolStrokeColor":"black","labelFont":"DejaVu Sans","labelFontSize":58,"labelColor":"black","labelLimit":1000,"labelExpr":"datum.value == '0.01' ? 'f = 10⁻²' : 'f = 0.99'","rowPadding":7,"labelOffset":17,"padding":0}}}},
   {"data":{"values":[{"label":"C¹⁸O"}]},"mark":{"type":"text","font":"DejaVu Serif","fontSize":80,"align":"left","baseline":"alphabetic","color":"black"},
    "encoding":{"text":{"field":"label"},"x":{"datum":134,"type":"quantitative","axis":null},"y":{"datum":32.0,"type":"quantitative","axis":null}}}
  ],
  "resolve":{"axis":{"x":"independent","y":"independent"}}},
 {"width":1080,"height":524,"data":{"name":"tt17"},
  "layer":[
   {"mark":{"type":"point","opacity":0},"encoding":{
     "x":{"field":"r","type":"quantitative","scale":{"type":"log","domain":[7,395],"nice":false},"axis":{"orient":"bottom","values":[8,9,20,30,40,50,60,70,80,90,200,300],"labels":false,"tickSize":-15,"title":null}},
     "y":{"field":"I","type":"quantitative","scale":{"domain":[0,42],"nice":false,"zero":false},"axis":{"orient":"left","values":[1,2,3,4,5,6,7,8,9,11,12,13,14,15,16,17,18,19,21,22,23,24,25,26,27,28,29,31,32,33,34,35,36,37,38,39,41],"labels":false,"tickSize":-15,"title":null}}}},
   {"mark":{"type":"point","opacity":0},"encoding":{
     "x":{"field":"r","type":"quantitative","scale":{"type":"log","domain":[7,395],"nice":false},"axis":{"orient":"top","values":[8,9,20,30,40,50,60,70,80,90,200,300],"labels":false,"tickSize":-13,"title":null}},
     "y":{"field":"I","type":"quantitative","scale":{"domain":[0,42],"nice":false,"zero":false},"axis":{"orient":"right","values":[1,2,3,4,5,6,7,8,9,11,12,13,14,15,16,17,18,19,21,22,23,24,25,26,27,28,29,31,32,33,34,35,36,37,38,39,41],"labels":false,"tickSize":-14,"title":null}}}},
   {"mark":{"type":"point","opacity":0},"encoding":{
     "x":{"field":"r","type":"quantitative","scale":{"type":"log","domain":[7,395],"nice":false},"axis":{"orient":"top","values":[10,100],"labels":false,"tickSize":-25,"title":null}},
     "y":{"field":"I","type":"quantitative","scale":{"domain":[0,42],"nice":false,"zero":false},"axis":{"orient":"right","values":[0,10,20,30,40],"labels":false,"tickSize":-28,"title":null}}}},
   {"mark":{"type":"line","strokeWidth":6},"encoding":{
     "x":{"field":"r","type":"quantitative","scale":{"type":"log","domain":[7,395],"nice":false},"axis":{"orient":"bottom","values":[10,100],"format":"d","tickSize":-30,"labelPadding":60,"title":"r [AU]","titleFontSize":58,"titlePadding":6}},
     "y":{"field":"I","type":"quantitative","scale":{"domain":[0,42],"nice":false,"zero":false},"axis":{"orient":"left","values":[0,10,20,30,40],"tickSize":-28,"labelPadding":67,"title":"INOISO/IISO","titleFont":"DejaVu Serif","titleFontStyle":"italic","titleFontWeight":"bold","titleFontSize":52,"titlePadding":66}},
     "color":{"field":"Md","type":"nominal","scale":{"domain":["1e-4","1e-3","1e-2"],"range":["#0b0bdc","#1eb9e6","#b4197a"]},"legend":null},
     "strokeDash":{"field":"f","type":"nominal","scale":{"domain":["0.01","0.99"],"range":[[5,15],[1,0]]},"legend":null}}},
   {"data":{"values":[{"label":"C¹⁷O"}]},"mark":{"type":"text","font":"DejaVu Serif","fontSize":80,"align":"left","baseline":"alphabetic","color":"black"},
    "encoding":{"text":{"field":"label"},"x":{"datum":134,"type":"quantitative","axis":null},"y":{"datum":32.0,"type":"quantitative","axis":null}}}
  ],
  "resolve":{"axis":{"x":"independent","y":"independent"}}}
 ],
 "spacing":9,
 "resolve":{"legend":{"color":"independent","strokeDash":"independent"}}},
{"title":{"text":"Herbig","anchor":"middle","frame":"bounds","dx":56},
 "vconcat":[
 {"width":1080,"height":524,"data":{"name":"hb18"},
  "layer":[
   {"mark":{"type":"point","opacity":0},"encoding":{
     "x":{"field":"r","type":"quantitative","scale":{"type":"log","domain":[9.05,395],"nice":false},"axis":{"orient":"bottom","values":[20,30,40,50,60,70,80,90,200,300],"labels":false,"tickSize":-15,"title":null}},
     "y":{"field":"I","type":"quantitative","scale":{"domain":[0,42],"nice":false,"zero":false},"axis":{"orient":"left","values":[1,2,3,4,5,6,7,8,9,11,12,13,14,15,16,17,18,19,21,22,23,24,25,26,27,28,29,31,32,33,34,35,36,37,38,39,41],"labels":false,"tickSize":-15,"title":null}}}},
   {"mark":{"type":"point","opacity":0},"encoding":{
     "x":{"field":"r","type":"quantitative","scale":{"type":"log","domain":[9.05,395],"nice":false},"axis":{"orient":"top","values":[20,30,40,50,60,70,80,90,200,300],"labels":false,"tickSize":-13,"title":null}},
     "y":{"field":"I","type":"quantitative","scale":{"domain":[0,42],"nice":false,"zero":false},"axis":{"orient":"right","values":[1,2,3,4,5,6,7,8,9,11,12,13,14,15,16,17,18,19,21,22,23,24,25,26,27,28,29,31,32,33,34,35,36,37,38,39,41],"labels":false,"tickSize":-14,"title":null}}}},
   {"mark":{"type":"point","opacity":0},"encoding":{
     "x":{"field":"r","type":"quantitative","scale":{"type":"log","domain":[9.05,395],"nice":false},"axis":{"orient":"top","values":[10,100],"labels":false,"tickSize":-25,"title":null}},
     "y":{"field":"I","type":"quantitative","scale":{"domain":[0,42],"nice":false,"zero":false},"axis":{"orient":"right","values":[0,10,20,30,40],"labels":false,"tickSize":-28,"title":null}}}},
   {"mark":{"type":"line","strokeWidth":6},"encoding":{
     "x":{"field":"r","type":"quantitative","scale":{"type":"log","domain":[9.05,395],"nice":false},"axis":{"orient":"bottom","values":[10,100],"format":"d","tickSize":-30,"labelPadding":60,"title":null}},
     "y":{"field":"I","type":"quantitative","scale":{"domain":[0,42],"nice":false,"zero":false},"axis":{"orient":"left","values":[0,10,20,30,40],"tickSize":-28,"labelPadding":67,"title":null}},
     "color":{"field":"Md","type":"nominal","scale":{"domain":["1e-4","1e-3","1e-2"],"range":["#0b0bdc","#1eb9e6","#b4197a"]},"legend":{"orient":"none","legendX":50,"legendY":180,"title":null,"symbolType":"stroke","symbolSize":2300,"symbolStrokeWidth":9,"labelFont":"DejaVu Sans","labelFontSize":56,"labelColor":"black","labelLimit":1000,"labelExpr":"datum.value == '1e-4' ? 'Md = 10⁻⁴ M⊙' : datum.value == '1e-3' ? 'Md = 10⁻³ M⊙' : 'Md = 10⁻² M⊙'","rowPadding":2.5,"labelOffset":17,"padding":0}},
     "strokeDash":{"field":"f","type":"nominal","scale":{"domain":["0.01","0.99"],"range":[[5,15],[1,0]]},"legend":null}}},
   {"data":{"values":[{"label":"C¹⁸O"}]},"mark":{"type":"text","font":"DejaVu Serif","fontSize":80,"align":"left","baseline":"alphabetic","color":"black"},
    "encoding":{"text":{"field":"label"},"x":{"datum":150,"type":"quantitative","axis":null},"y":{"datum":32.0,"type":"quantitative","axis":null}}}
  ],
  "resolve":{"axis":{"x":"independent","y":"independent"}}},
 {"width":1080,"height":524,"data":{"name":"hb17"},
  "layer":[
   {"mark":{"type":"point","opacity":0},"encoding":{
     "x":{"field":"r","type":"quantitative","scale":{"type":"log","domain":[9.05,395],"nice":false},"axis":{"orient":"bottom","values":[20,30,40,50,60,70,80,90,200,300],"labels":false,"tickSize":-15,"title":null}},
     "y":{"field":"I","type":"quantitative","scale":{"domain":[0,42],"nice":false,"zero":false},"axis":{"orient":"left","values":[1,2,3,4,5,6,7,8,9,11,12,13,14,15,16,17,18,19,21,22,23,24,25,26,27,28,29,31,32,33,34,35,36,37,38,39,41],"labels":false,"tickSize":-15,"title":null}}}},
   {"mark":{"type":"point","opacity":0},"encoding":{
     "x":{"field":"r","type":"quantitative","scale":{"type":"log","domain":[9.05,395],"nice":false},"axis":{"orient":"top","values":[20,30,40,50,60,70,80,90,200,300],"labels":false,"tickSize":-13,"title":null}},
     "y":{"field":"I","type":"quantitative","scale":{"domain":[0,42],"nice":false,"zero":false},"axis":{"orient":"right","values":[1,2,3,4,5,6,7,8,9,11,12,13,14,15,16,17,18,19,21,22,23,24,25,26,27,28,29,31,32,33,34,35,36,37,38,39,41],"labels":false,"tickSize":-14,"title":null}}}},
   {"mark":{"type":"point","opacity":0},"encoding":{
     "x":{"field":"r","type":"quantitative","scale":{"type":"log","domain":[9.05,395],"nice":false},"axis":{"orient":"top","values":[10,100],"labels":false,"tickSize":-25,"title":null}},
     "y":{"field":"I","type":"quantitative","scale":{"domain":[0,42],"nice":false,"zero":false},"axis":{"orient":"right","values":[0,10,20,30,40],"labels":false,"tickSize":-28,"title":null}}}},
   {"mark":{"type":"line","strokeWidth":6},"encoding":{
     "x":{"field":"r","type":"quantitative","scale":{"type":"log","domain":[9.05,395],"nice":false},"axis":{"orient":"bottom","values":[10,100],"format":"d","tickSize":-30,"labelPadding":60,"title":"r [AU]","titleFontSize":58,"titlePadding":6}},
     "y":{"field":"I","type":"quantitative","scale":{"domain":[0,42],"nice":false,"zero":false},"axis":{"orient":"left","values":[0,10,20,30,40],"tickSize":-28,"labelPadding":67,"title":null}},
     "color":{"field":"Md","type":"nominal","scale":{"domain":["1e-4","1e-3","1e-2"],"range":["#0b0bdc","#1eb9e6","#b4197a"]},"legend":null},
     "strokeDash":{"field":"f","type":"nominal","scale":{"domain":["0.01","0.99"],"range":[[5,15],[1,0]]},"legend":null}}},
   {"data":{"values":[{"label":"C¹⁷O"}]},"mark":{"type":"text","font":"DejaVu Serif","fontSize":80,"align":"left","baseline":"alphabetic","color":"black"},
    "encoding":{"text":{"field":"label"},"x":{"datum":150,"type":"quantitative","axis":null},"y":{"datum":32.0,"type":"quantitative","axis":null}}}
  ],
  "resolve":{"axis":{"x":"independent","y":"independent"}}}
 ],
 "spacing":9,
 "resolve":{"legend":{"color":"independent","strokeDash":"independent"}}}
],
"spacing":101,
"resolve":{"legend":{"color":"independent","strokeDash":"independent"}},
"config":{
 "font":"DejaVu Sans",
 "view":{"stroke":"black","strokeWidth":4},
 "axis":{"domain":false,"grid":false,"ticks":true,"tickColor":"black","tickWidth":3,"labelColor":"black","labelFont":"DejaVu Sans","labelFontSize":58,"labelFlush":false,"labelOverlap":false,"titleColor":"black","titleFont":"DejaVu Sans","titleFontSize":60,"titleFontWeight":"normal"},
 "title":{"font":"DejaVu Serif","fontSize":90,"fontWeight":"normal","color":"black","anchor":"middle","offset":50}
}
}
